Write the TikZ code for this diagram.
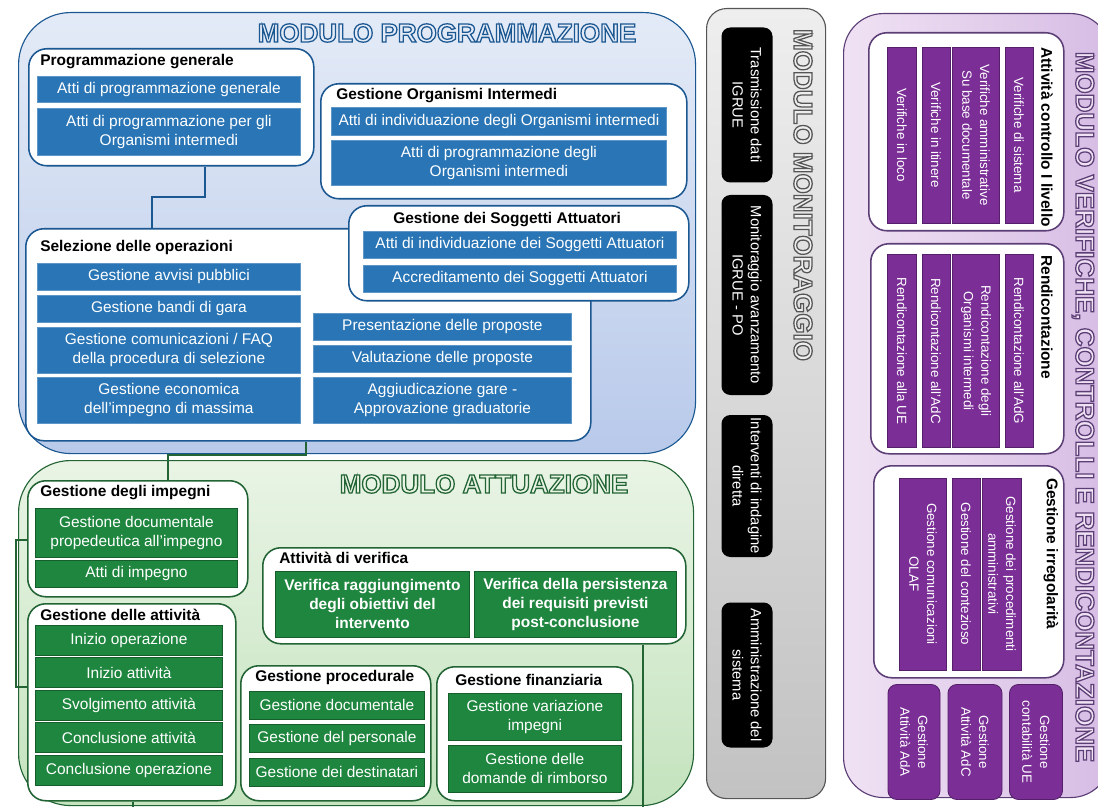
\documentclass[tikz,border=0pt]{standalone}
\usepackage{fontspec}
\setmainfont{Liberation Sans}

% testo a contorno (riempimento + tratto)
\newcommand{\outl}[2]{\special{pdf:literal direct #1 RG 2 Tr 0.9 w}#2\special{pdf:literal direct 0 Tr}}

\definecolor{progblue}{RGB}{41,117,181}
\definecolor{progline}{RGB}{27,88,146}
\definecolor{progtop}{RGB}{228,235,247}
\definecolor{progbot}{RGB}{184,201,234}
\definecolor{attgreen}{RGB}{30,134,62}
\definecolor{attline}{RGB}{34,100,52}
\definecolor{atttop}{RGB}{233,244,229}
\definecolor{attbot}{RGB}{196,227,190}
\definecolor{monline}{RGB}{85,85,85}
\definecolor{montop}{RGB}{238,238,238}
\definecolor{monbot}{RGB}{194,194,194}
\definecolor{verpurple}{RGB}{122,46,150}
\definecolor{verline}{RGB}{92,62,118}
\definecolor{verleft}{RGB}{240,226,244}
\definecolor{verright}{RGB}{214,188,228}

\tikzset{
  sz/.style 2 args={minimum width=#1*0.025cm, minimum height=#2*0.025cm},
  module/.style={draw, anchor=north west, inner sep=0pt, line width=0.8pt},
  group/.style={draw, fill=white, rounded corners=0.45cm, anchor=north west, inner sep=0pt, line width=1.1pt},
  head/.style={anchor=west, inner sep=0pt, font=\fontsize{11}{13}\selectfont\bfseries},
  item/.style={anchor=north west, inner sep=1pt, align=center, text=white, line width=0.6pt,
    font=\fontsize{11}{13.5}\selectfont},
  bitem/.style={item, fill=progblue, draw=progblue!75!white},
  gitem/.style={item, fill=attgreen, draw=attgreen!70!black},
  pitem/.style={rotate=-90, inner sep=1pt, align=center, text=white, fill=verpurple,
    draw=verpurple!70!black, line width=0.6pt, font=\fontsize{9.5}{12.5}\selectfont},
  kitem/.style={rotate=-90, inner sep=1pt, align=center, text=white, fill=black,
    rounded corners=0.22cm, font=\fontsize{10.5}{13}\selectfont},
  title/.style={inner sep=0pt, font=\fontsize{18.5}{20}\selectfont\bfseries},
  bluelink/.style={draw=progline, line width=1.2pt},
  greenlink/.style={draw=attline, line width=1.2pt},
}

\begin{document}
\begin{tikzpicture}[x=0.025cm, y=-0.025cm]
\useasboundingbox (0,0) rectangle (1098,807);

% moduli
\node[module, draw=progline, rounded corners=1.3cm, top color=progtop, bottom color=progbot, sz={677}{441}] (mprog) at (18,12) {};
\node[module, draw=attline, rounded corners=1.3cm, top color=atttop, bottom color=attbot, sz={675}{345}] (matt) at (18,460) {};
\node[module, draw=monline, rounded corners=0.5cm, top color=montop, bottom color=monbot, sz={119}{790}] (mmon) at (706,8) {};
\node[module, draw=verline, rounded corners=1cm, left color=verleft, right color=verright, sz={267}{784}] (mver) at (843,13) {};

\node[title, text=progtop] (tprog) at (447,33) {\outl{0.106 0.345 0.573}{MODULO PROGRAMMAZIONE}};
\node[title, text=atttop] (tatt) at (484,484) {\outl{0.133 0.392 0.204}{MODULO ATTUAZIONE}};
\node[title, text=montop, rotate=-90] (tmon) at (803,195) {\outl{0.333 0.333 0.333}{MODULO MONITORAGGIO}};
\node[title, text=verleft, rotate=-90] (tver) at (1083,407) {\outl{0.361 0.243 0.463}{MODULO VERIFICHE, CONTROLLI E RENDICONTAZIONE}};

% collegamenti
\coordinate (j1) at (205,197);
\coordinate (j2) at (152,197);
\coordinate (j3) at (306,455);
\coordinate (j4) at (168,455);
\coordinate (j5) at (16,540);
\coordinate (j6) at (16,687);
\coordinate (j7) at (133,807);
\coordinate (j8) at (643,807);

% programmazione
\node[group, draw=progline, sz={285}{117}] (pg) at (28,48) {};
\node[group, draw=progline, sz={366}{115}] (goi) at (320,83) {};
\node[group, draw=progline, sz={565}{212}] (sel) at (25,228) {};
\node[group, draw=progline, sz={340}{95}] (gsa) at (348,205) {};

\draw[bluelink] (pg.south -| j1) -- (j1) -- (j2) -- (sel.north -| j2);

\node[head] (hpg) at (40,62) {Programmazione generale};
\node[bitem, sz={263}{26}] (pg1) at (37,76) {Atti di programmazione generale};
\node[bitem, sz={263}{47}] (pg2) at (37,108) {Atti di programmazione per gli\\Organismi intermedi};

\node[head] (hgoi) at (336,96) {Gestione Organismi Intermedi};
\node[bitem, sz={335}{28}] (goi1) at (331,107) {Atti di individuazione degli Organismi intermedi};
\node[bitem, sz={335}{45}] (goi2) at (331,140) {Atti di programmazione degli\\Organismi intermedi};

\node[head] (hsel) at (40,248) {Selezione delle operazioni};
\node[bitem, sz={263}{27}] (sel1) at (37,263) {Gestione avvisi pubblici};
\node[bitem, sz={263}{27}] (sel2) at (37,295) {Gestione bandi di gara};
\node[bitem, sz={263}{46}] (sel3) at (37,327) {Gestione comunicazioni / FAQ\\della procedura di selezione};
\node[bitem, sz={263}{46}] (sel4) at (37,377) {Gestione economica\\dell'impegno di massima};
\node[bitem, sz={258}{27}] (sel5) at (313,313) {Presentazione delle proposte};
\node[bitem, sz={258}{27}] (sel6) at (313,345) {Valutazione delle proposte};
\node[bitem, sz={258}{46}] (sel7) at (313,377) {Aggiudicazione gare -\\Approvazione graduatorie};

\node[head] (hgsa) at (393,220) {Gestione dei Soggetti Attuatori};
\node[bitem, sz={313}{27}] (gsa1) at (363,231) {Atti di individuazione dei Soggetti Attuatori};
\node[bitem, sz={313}{27}] (gsa2) at (363,265) {Accreditamento dei Soggetti Attuatori};

% attuazione
\node[group, draw=attline, sz={220}{116}] (gi) at (27,480) {};
\node[group, draw=attline, sz={208}{197}] (ga) at (27,603) {};
\node[group, draw=attline, sz={423}{96}] (av) at (262,547) {};
\node[group, draw=attline, sz={190}{135}] (gp) at (240,665) {};
\node[group, draw=attline, sz={196}{134}] (gf) at (436,666) {};

\draw[greenlink] (sel.south -| j3) -- (j3) -- (j4) -- (gi.north -| j4);
\draw[greenlink] (gi.west |- j5) -- (j5) -- (j6) -- (ga.west |- j6);
\draw[greenlink] (ga.south -| j7) -- (j7);
\draw[greenlink] (av.south -| j8) -- (j8);

\node[head] (hgi) at (40,493) {Gestione degli impegni};
\node[gitem, sz={202}{49}] (gi1) at (35,508) {Gestione documentale\\propedeutica all'impegno};
\node[gitem, sz={202}{27}] (gi2) at (35,560) {Atti di impegno};

\node[head] (hga) at (40,615) {Gestione delle attività};
\node[gitem, sz={187}{30}] (ga1) at (35,625) {Inizio operazione};
\node[gitem, sz={187}{30}] (ga2) at (35,657) {Inizio attività};
\node[gitem, sz={187}{30}] (ga3) at (35,690) {Svolgimento attività};
\node[gitem, sz={187}{30}] (ga4) at (35,722) {Conclusione attività};
\node[gitem, sz={187}{30}] (ga5) at (35,755) {Conclusione operazione};

\node[head] (hav) at (279,558) {Attività di verifica};
\node[gitem, sz={194}{66}, font=\fontsize{11}{13.5}\selectfont\bfseries] (av1) at (275,571) {Verifica raggiungimento\\degli obiettivi del\\intervento};
\node[gitem, sz={202}{66}, font=\fontsize{11}{13.5}\selectfont\bfseries] (av2) at (474,571) {Verifica della persistenza\\dei requisiti previsti\\post-conclusione};

\node[head] (hgp) at (255,677) {Gestione procedurale};
\node[gitem, sz={175}{28}] (gp1) at (249,691) {Gestione documentale};
\node[gitem, sz={175}{28}] (gp2) at (249,724) {Gestione del personale};
\node[gitem, sz={175}{28}] (gp3) at (249,758) {Gestione dei destinatari};

\node[head] (hgf) at (455,680) {Gestione finanziaria};
\node[gitem, sz={173}{47}] (gf1) at (448,693) {Gestione variazione\\impegni};
\node[gitem, sz={173}{47}] (gf2) at (448,745) {Gestione delle\\domande di rimborso};

% monitoraggio
\node[kitem, sz={155}{51}] (mon1) at (747,105) {Trasmissione dati\\IGRUE};
\node[kitem, sz={200}{51}] (mon2) at (747,295) {Monitoraggio avanzamento\\IGRUE - PO};
\node[kitem, sz={142}{51}] (mon3) at (747,486) {Interventi di indagine\\diretta};
\node[kitem, sz={145}{51}] (mon4) at (747,675) {Amministrazione del\\sistema};

% verifiche
\node[group, draw=verline, sz={195}{198}] (acl) at (868,32) {};
\node[group, draw=verline, sz={193}{210}] (ren) at (870,243) {};
\node[group, draw=verline, sz={190}{212}] (gir) at (873,465) {};

\node[head, rotate=-90] (hacl) at (1047,47) {Attività controllo I livello};
\node[pitem, sz={176}{28}] (acl1) at (1019,135) {Verifiche di sistema};
\node[pitem, sz={176}{47}] (acl2) at (976,135) {Verifiche amministrative\\Su base documentale};
\node[pitem, sz={176}{28}] (acl3) at (936,135) {Verifiche in itinere};
\node[pitem, sz={176}{29}] (acl4) at (902,135) {Verifiche in loco};

\node[head, rotate=-90] (hren) at (1047,255) {Rendicontazione};
\node[pitem, sz={193}{28}] (ren1) at (1019,351) {Rendicontazione all'AdG};
\node[pitem, sz={193}{47}] (ren2) at (976,351) {Rendicontazione degli\\Organismi intermedi};
\node[pitem, sz={193}{28}] (ren3) at (936,351) {Rendicontazione all'AdC};
\node[pitem, sz={193}{29}] (ren4) at (902,351) {Rendicontazione alla UE};

\node[head, rotate=-90] (hgir) at (1051,478) {Gestione irregolarità};
\node[pitem, sz={192}{39}] (gir1) at (1002,574) {Gestione dei procedimenti\\amministrativi};
\node[pitem, sz={192}{28}] (gir2) at (966,574) {Gestione del contezioso};
\node[pitem, sz={192}{47}] (gir3) at (923,574) {Gestione comunicazioni\\OLAF};

\node[pitem, rounded corners=0.22cm, sz={115}{53}] (ver1) at (1036,742) {Gestione\\contabilità UE};
\node[pitem, rounded corners=0.22cm, sz={115}{54}] (ver2) at (975,742) {Gestione\\Attività AdC};
\node[pitem, rounded corners=0.22cm, sz={115}{52}] (ver3) at (914,742) {Gestione\\Attività AdA};

\end{tikzpicture}
\end{document}
